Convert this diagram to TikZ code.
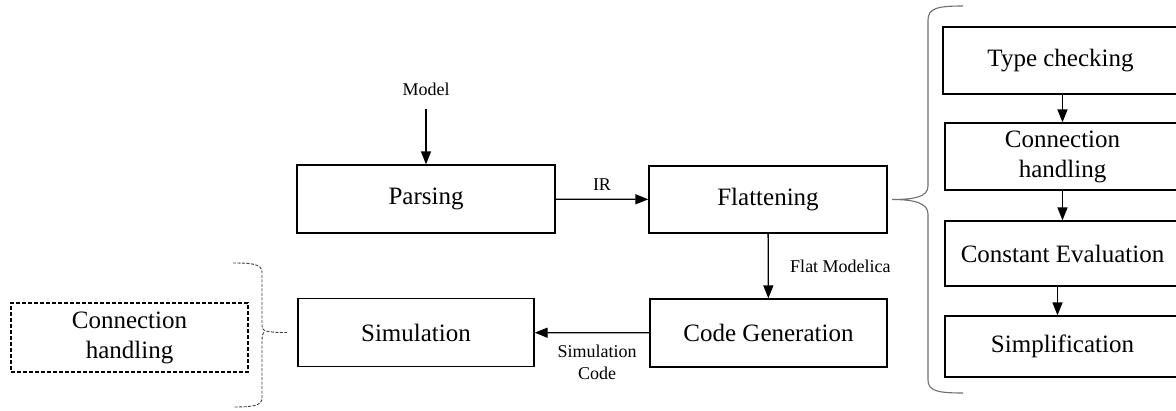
\documentclass[tikz,border=0pt]{standalone}
\usepackage{fontspec}
\setmainfont{Liberation Serif}
\usetikzlibrary{positioning,arrows.meta}
\definecolor{braceg}{HTML}{707070}

\begin{document}
\begin{tikzpicture}[x=1pt,y=-1pt,every node/.style={font=\fontsize{18}{22}\selectfont},
  stage/.style={draw,line width=1.3pt,inner sep=0pt,align=center,font=\fontsize{25}{30}\selectfont},
  pass/.style={-{Triangle[length=13pt,width=10pt]},line width=1.3pt}]
\useasboundingbox (0,0) rectangle (1176,410);
% compiler pipeline
\node[stage,minimum width=258pt,minimum height=68pt] (parse) at (426,199) {Parsing};
\node[stage,minimum width=238pt,minimum height=67pt] (flat) at (768,199.5) {Flattening};
\node[stage,minimum width=237pt,minimum height=68pt] (codegen) at (768.5,333) {Code Generation};
\node[stage,minimum width=236pt,minimum height=68pt] (sim) at (416,332.5) {Simulation};
\node[stage,dashed,line width=1.1pt,dash pattern=on 4pt off 2pt,minimum width=237pt,minimum height=69pt] (extconn) at (129.5,337.5) {Connection\\handling};
\node (model) at (426,89) {Model};
\draw[pass,shorten <=10pt] (model) -- (parse);
\draw[pass] (parse) -- (flat) node[midway,above=5pt]{IR};
\draw[pass] (flat) -- (codegen) node[midway,right=18pt]{Flat Modelica};
\draw[pass] (codegen) -- (sim) node[midway,below=8pt,xshift=5pt,align=center]{Simulation\\Code};
% flattening steps
\foreach \n/\x/\y/\h/\t in {type/1060.5/60.5/67/{Type checking},connh/1062.5/156.5/67/{Connection\\handling},
  consteval/1062.5/253.5/65/{Constant Evaluation},simp/1062.5/346.5/61/{Simplification}}{
  \node[stage,minimum width=235pt,minimum height=\h pt] (\n) at (\x,\y) {\t};}
\draw[pass] (type.south -| connh.north) -- (connh.north);
\draw[pass] (connh.south) -- (consteval.north);
\draw[pass] ([xshift=-5pt]consteval.south) -- ([xshift=-5pt]consteval.south |- simp.north);
% braces
\coordinate (fliptip) at (892,199.5);
\coordinate (simtip) at (287,332.5);
\draw[braceg,line width=1.1pt] (963,6) .. controls (938,6) and (928,8) .. (928,20) -- (928,186)
  .. controls (928,197) and (914,199.5) .. (fliptip) .. controls (914,199.5) and (928,203) .. (928,214)
  -- (928,380) .. controls (928,391) and (938,393) .. (963,393);
\draw[black!75,line width=0.9pt,dash pattern=on 3pt off 1.5pt] (233,263) .. controls (252,263) and (262,264) .. (262,272)
  -- (262,326) .. controls (262,331) and (266,332.5) .. (simtip);
\draw[black!75,line width=0.9pt,dash pattern=on 3pt off 1.5pt] (264,332.5) .. controls (262,334) and (262,338) .. (262,342)
  -- (262,398) .. controls (262,406) and (252,407) .. (233,407);
\end{tikzpicture}
\end{document}
